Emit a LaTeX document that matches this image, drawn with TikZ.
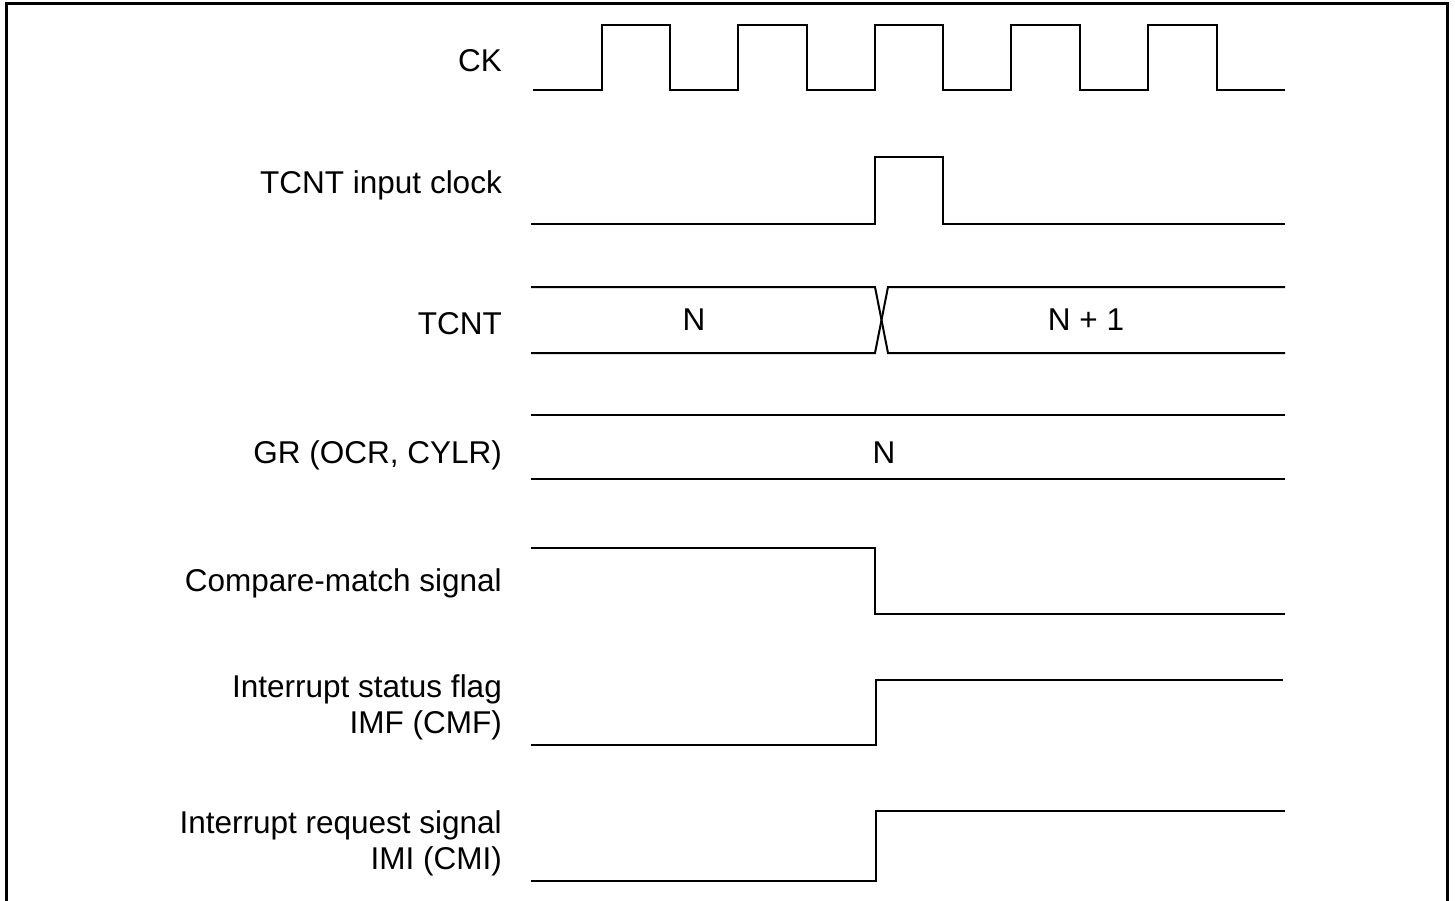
\documentclass[tikz,border=0pt]{standalone}
\usepackage{fontspec}
\setmainfont{Liberation Sans}
\begin{document}
\begin{tikzpicture}[x=1pt,y=-1pt,
  wave/.style={line width=2pt, line join=miter},
  lbl/.style={font=\fontsize{31.5}{36}\selectfont, inner sep=0pt, anchor=base east},
  val/.style={font=\fontsize{31.5}{36}\selectfont, inner sep=0pt, anchor=base}]
\useasboundingbox (0,0) rectangle (1455,901);
% frame
\draw[line width=3pt] (6.5,901) -- (6.5,4) -- (1447.5,4) -- (1447.5,901);
% labels
\node[lbl] (lck) at (502,72) {CK};
\node[lbl] (lin) at (502,194) {TCNT input clock};
\node[lbl] (ltcnt) at (502,334) {TCNT};
\node[lbl] (lgr) at (502,463) {GR (OCR, CYLR)};
\node[lbl] (lcmp) at (502,591) {Compare-match signal};
\node[lbl] (limf1) at (502,697) {Interrupt status flag};
\node[lbl] (limf2) at (502,733) {IMF (CMF)};
\node[lbl] (limi1) at (502,833) {Interrupt request signal};
\node[lbl] (limi2) at (502,869) {IMI (CMI)};
% values
\node[val] (vn) at (694,330) {N};
\node[val] (vn1) at (1086,330) {N + 1};
\node[val] (vgr) at (884,463) {N};
% CK
\draw[wave] (533,90) -- (602,90) -- (602,25) -- (670,25) -- (670,90)
  -- (738,90) -- (738,25) -- (807,25) -- (807,90)
  -- (875,90) -- (875,25) -- (943,25) -- (943,90)
  -- (1011,90) -- (1011,25) -- (1080,25) -- (1080,90)
  -- (1148,90) -- (1148,25) -- (1217,25) -- (1217,90) -- (1285,90);
% TCNT input clock
\draw[wave] (531,224) -- (875,224) -- (875,157) -- (943,157) -- (943,224) -- (1285,224);
% TCNT
\draw[wave] (531,287) -- (875,287) -- (888,353) -- (1285,353);
\draw[wave] (531,353) -- (875,353) -- (888,287) -- (1285,287);
% GR
\draw[wave] (531,415) -- (1285,415);
\draw[wave] (531,479) -- (1285,479);
% Compare-match
\draw[wave] (531,548) -- (875,548) -- (875,614) -- (1285,614);
% IMF
\draw[wave] (531,745) -- (876,745) -- (876,680) -- (1283,680);
% IMI
\draw[wave] (531,881) -- (876,881) -- (876,811) -- (1285,811);
\end{tikzpicture}
\end{document}
